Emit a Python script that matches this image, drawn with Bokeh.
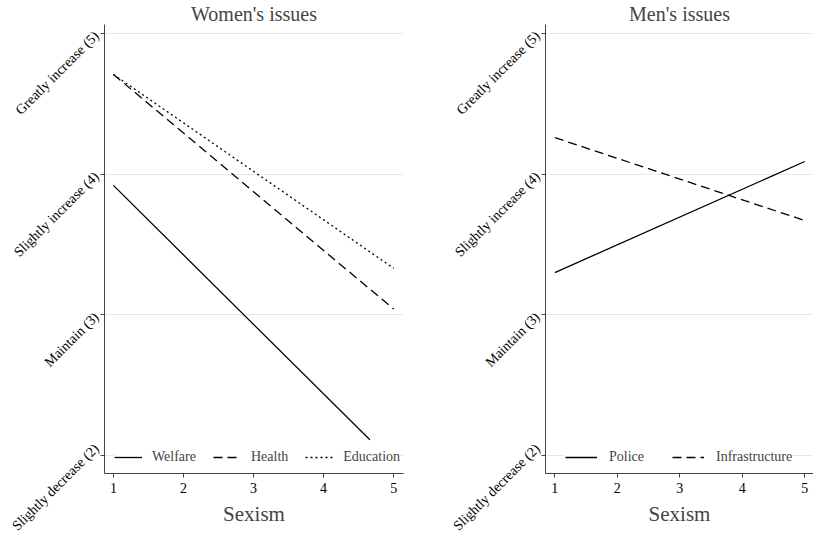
import math
from bokeh.plotting import figure
from bokeh.layouts import row
from bokeh.models import FixedTicker, Legend, LegendItem, Range1d
from bokeh.embed import file_html
from bokeh.resources import INLINE

# ---- data ----
sexism = [1, 5]
welfare_x = [1, 4.66]
welfare_y = [3.92, 2.11]
health = [4.71, 3.04]
education = [4.71, 3.33]
police = [3.30, 4.09]
infrastructure = [4.26, 3.67]

x_ticks = [1, 2, 3, 4, 5]
y_ticks = [2, 3, 4, 5]
y_labels = ["Slightly decrease (2)", "Maintain (3)", "Slightly increase (4)", "Greatly increase (5)"]

FONT = "Liberation Serif"


def make_fig(title, width, border_right, x_start):
    p = figure(width=width, height=533, output_backend="svg", toolbar_location=None,
               x_range=Range1d(x_start, 5.14), y_range=Range1d(1.87, 5.065),
               min_border_left=92, min_border_right=border_right,
               min_border_top=18, min_border_bottom=60)
    p.outline_line_color = None
    p.title.text = title
    p.title.text_font = FONT
    p.title.text_font_size = "20px"
    p.title.text_font_style = "normal"
    p.title.align = "center"
    p.title.standoff = 0
    p.xgrid.visible = False
    p.ygrid.grid_line_color = "#e8e8e8"
    p.ygrid.ticker = FixedTicker(ticks=y_ticks)
    for ax in (p.xaxis[0], p.yaxis[0]):
        ax.axis_line_color = "#444444"
        ax.major_tick_line_color = "#444444"
        ax.major_tick_out = 4
        ax.major_tick_in = 0
        ax.minor_tick_line_color = None
        ax.major_label_text_color = "black"
        ax.major_label_text_font = FONT
    p.xaxis.ticker = FixedTicker(ticks=x_ticks)
    p.xaxis.major_label_text_font_size = "14px"
    p.xaxis.axis_label = "Sexism"
    p.xaxis.axis_label_text_font = FONT
    p.xaxis.axis_label_text_font_size = "21px"
    p.xaxis.axis_label_text_font_style = "normal"
    p.xaxis.axis_label_standoff = 6
    p.yaxis.ticker = FixedTicker(ticks=y_ticks)
    p.yaxis.major_label_overrides = {t: l for t, l in zip(y_ticks, y_labels)}
    p.yaxis.major_label_orientation = math.pi / 4
    p.yaxis.major_label_text_font_size = "14px"
    p.yaxis.major_label_standoff = 4
    return p


p1 = make_fig("Women's issues", 441, 38, 0.873)
r1 = p1.line(welfare_x, welfare_y, line_color="black", line_width=1.3)
r2 = p1.line(sexism, health, line_color="black", line_width=1.3, line_dash="9 5")
r3 = p1.line(sexism, education, line_color="black", line_width=1.3, line_dash="2 3")
leg1 = Legend(items=[LegendItem(label="Welfare", renderers=[r1]),
                     LegendItem(label="Health", renderers=[r2]),
                     LegendItem(label="Education", renderers=[r3])],
              location=(10, 8), orientation="horizontal", padding=2, margin=0,
              spacing=17, label_standoff=10, glyph_width=28, glyph_height=16,
              label_text_font=FONT, label_text_font_size="14px",
              border_line_color=None, background_fill_color="white")
p1.add_layout(leg1, "center")

p2 = make_fig("Men's issues", 372, 0, 0.85)
r4 = p2.line(sexism, police, line_color="black", line_width=1.3)
r5 = p2.line(sexism, infrastructure, line_color="black", line_width=1.3, line_dash="9 5")
leg2 = Legend(items=[LegendItem(label="Police", renderers=[r4]),
                     LegendItem(label="Infrastructure", renderers=[r5])],
              location=(20, 8), orientation="horizontal", padding=2, margin=0,
              spacing=28, label_standoff=12, glyph_width=32, glyph_height=16,
              label_text_font=FONT, label_text_font_size="14px",
              border_line_color=None, background_fill_color="white")
p2.add_layout(leg2, "center")

layout = row(p1, p2)
open("out.html", "w").write(file_html(layout, INLINE))
